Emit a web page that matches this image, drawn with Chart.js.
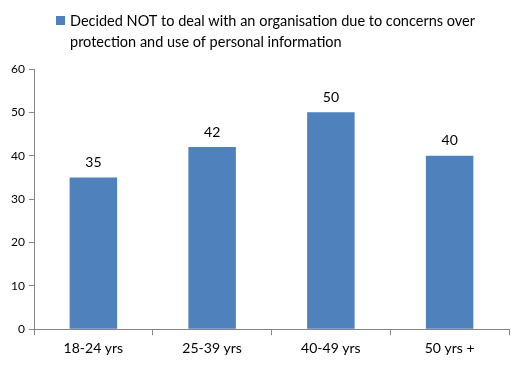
<!DOCTYPE html>
<html>
<head>
<meta charset="utf-8">
<script src="https://cdn.jsdelivr.net/npm/chart.js@4"></script>
<style>
  html,body{margin:0;padding:0;background:#fff;}
  #wrap{width:531px;height:367px;position:relative;}
</style>
</head>
<body>
<div id="wrap"><canvas id="chart"></canvas></div>
<script>
const categories = ['18-24 yrs', '25-39 yrs', '40-49 yrs', '50 yrs +'];
const values = [35, 42, 50, 40];
const seriesName = ['Decided NOT to deal with an organisation due to concerns over', 'protection and use of personal information'];
const yTicks = [0, 10, 20, 30, 40, 50, 60];

const FONT = "Lato, 'Open Sans', sans-serif";
const BLUE = '#4F81BD';
const AXIS = '#868686';

// value labels above bars
const barLabels = {
  id:'barLabels',
  afterDatasetsDraw(chart){
    const ctx=chart.ctx;
    const meta=chart.getDatasetMeta(0);
    ctx.save();
    ctx.font='14px '+FONT;
    ctx.fillStyle='#000';
    ctx.textAlign='center';
    ctx.textBaseline='bottom';
    meta.data.forEach((bar,i)=>{
      ctx.fillText(values[i], bar.x, bar.y-8);
    });
    ctx.restore();
  }
};

// two-line legend at top (built-in legend doesn't wrap)
const wrapLegend = {
  id:'wrapLegend',
  afterDraw(chart){
    const ctx=chart.ctx;
    ctx.save();
    ctx.fillStyle=BLUE;
    ctx.fillRect(56,16,9,9);
    ctx.font='14.5px '+FONT;
    ctx.fillStyle='#000';
    ctx.textAlign='left';
    ctx.textBaseline='middle';
    seriesName.forEach((line,i)=>ctx.fillText(line,70,21+i*21));
    ctx.restore();
  }
};

new Chart(document.getElementById('chart').getContext('2d'),{
  type:'bar',
  data:{labels:categories,datasets:[{label:seriesName.join(' '),data:values,backgroundColor:BLUE,
    categoryPercentage:1,barPercentage:0.4}]},
  options:{
    responsive:true,maintainAspectRatio:false,animation:false,
    layout:{padding:{left:4,right:22,top:69,bottom:5}},
    plugins:{
      legend:{display:false},
      tooltip:{enabled:false}
    },
    scales:{
      x:{grid:{display:true,drawOnChartArea:false,offset:true,color:AXIS,tickLength:6},
        border:{color:AXIS},
        ticks:{color:'#000',font:{family:FONT,size:14},padding:5}},
      y:{min:0,max:60,
        afterBuildTicks:axis=>{axis.ticks=yTicks.map(v=>({value:v}));},
        afterFit:axis=>{axis.width=30;},
        grid:{display:true,drawOnChartArea:false,color:AXIS,tickLength:5},
        border:{color:AXIS},
        ticks:{color:'#000',font:{family:FONT,size:12},padding:4}}
    }
  },
  plugins:[barLabels,wrapLegend]
});
</script>
</body>
</html>
